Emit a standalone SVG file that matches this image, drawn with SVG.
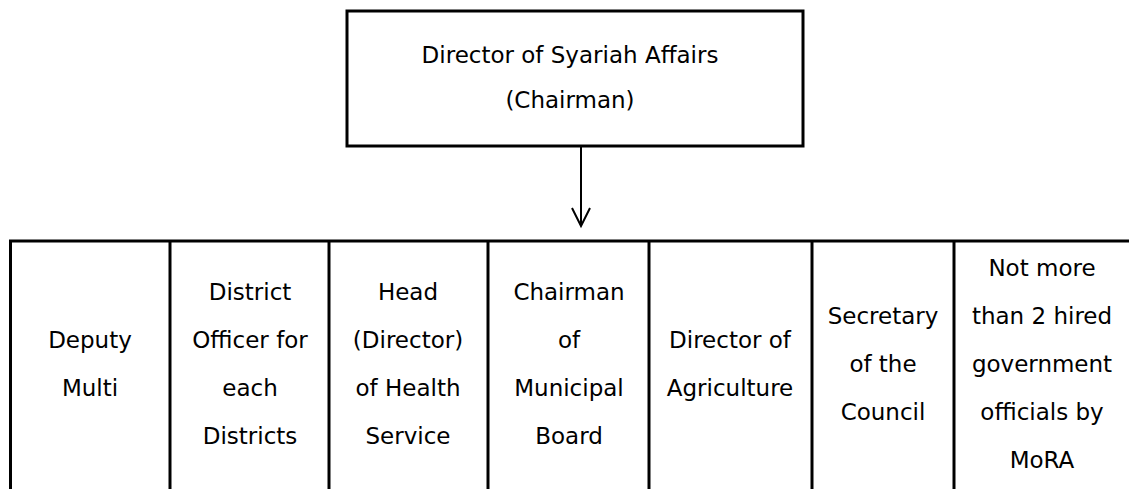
<svg xmlns="http://www.w3.org/2000/svg" width="1129" height="489" viewBox="0 0 1129 489">
  <style>
    .box { fill: #ffffff; stroke: #000000; stroke-width: 3; }
    .rule { stroke: #000000; stroke-width: 3; fill: none; }
    .conn { stroke: #000000; stroke-width: 2; fill: none; }
    text { font-family: "DejaVu Sans", "Noto Sans", sans-serif; font-size: 23px; fill: #000000; text-anchor: middle; }
  </style>
  <rect width="1129" height="489" fill="#ffffff"/>

  <!-- chairman box -->
  <g id="chairman">
    <rect class="box" x="347" y="11" width="456" height="135"/>
    <text x="570" y="63">Director of Syariah Affairs</text>
    <text x="570" y="108">(Chairman)</text>
  </g>

  <!-- connector from chairman to members, open V head -->
  <g id="connectors">
    <path class="conn" d="M581,147 V225" />
    <path class="conn" d="M572,208 L581,226 L590,208" />
  </g>

  <!-- member row: top rule and column dividers, open at the bottom -->
  <g id="member-grid">
    <path class="rule" d="M9,241 H1129"/>
    <path class="rule" d="M10.5,240 V489"/>
    <path class="rule" d="M170,240 V489"/>
    <path class="rule" d="M329,240 V489"/>
    <path class="rule" d="M488,240 V489"/>
    <path class="rule" d="M649,240 V489"/>
    <path class="rule" d="M812,240 V489"/>
    <path class="rule" d="M954,240 V489"/>
  </g>

  <g id="deputy-mufti">
    <text x="90" y="348">Deputy</text>
    <text x="90" y="396">Multi</text>
  </g>
  <g id="district-officer">
    <text x="250" y="300">District</text>
    <text x="250" y="348">Officer for</text>
    <text x="250" y="396">each</text>
    <text x="250" y="444">Districts</text>
  </g>
  <g id="health-service">
    <text x="408" y="300">Head</text>
    <text x="408" y="348">(Director)</text>
    <text x="408" y="396">of Health</text>
    <text x="408" y="444">Service</text>
  </g>
  <g id="municipal-board">
    <text x="569" y="300">Chairman</text>
    <text x="569" y="348">of</text>
    <text x="569" y="396">Municipal</text>
    <text x="569" y="444">Board</text>
  </g>
  <g id="agriculture">
    <text x="730" y="348">Director of</text>
    <text x="730" y="396">Agriculture</text>
  </g>
  <g id="council-secretary">
    <text x="883" y="324">Secretary</text>
    <text x="883" y="372">of the</text>
    <text x="883" y="420">Council</text>
  </g>
  <g id="hired-officials">
    <text x="1042" y="276">Not more</text>
    <text x="1042" y="324">than 2 hired</text>
    <text x="1042" y="372">government</text>
    <text x="1042" y="420">officials by</text>
    <text x="1042" y="468">MoRA</text>
  </g>
</svg>
